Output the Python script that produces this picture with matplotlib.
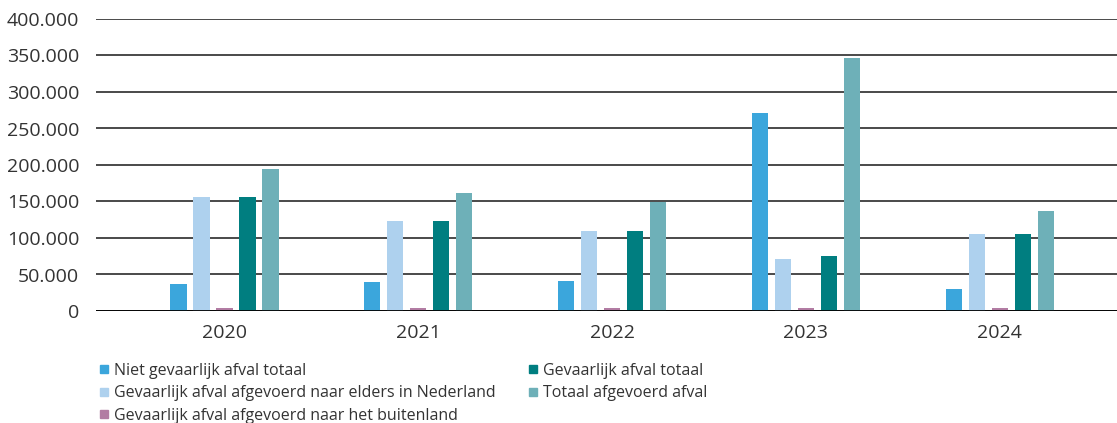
import matplotlib.pyplot as plt
import numpy as np
from matplotlib.lines import Line2D
from matplotlib.ticker import FuncFormatter

plt.rcParams['font.family'] = ['Open Sans', 'DejaVu Sans']

jaren = ['2020', '2021', '2022', '2023', '2024']

niet_gevaarlijk = [37000, 40000, 41000, 271000, 30000]
gevaarlijk_nl = [156000, 123000, 109000, 71000, 105000]
gevaarlijk_buitenland = [4000, 4000, 4000, 4000, 4000]
gevaarlijk_totaal = [156000, 123000, 109000, 75000, 105000]
totaal_afgevoerd = [194500, 161500, 149000, 346500, 137000]

reeksen = [
    ('Niet gevaarlijk afval totaal', niet_gevaarlijk, '#3ba6dc'),
    ('Gevaarlijk afval afgevoerd naar elders in Nederland', gevaarlijk_nl, '#aed1ee'),
    ('Gevaarlijk afval afgevoerd naar het buitenland', gevaarlijk_buitenland, '#b27ca3'),
    ('Gevaarlijk afval totaal', gevaarlijk_totaal, '#007e80'),
    ('Totaal afgevoerd afval', totaal_afgevoerd, '#6eb0b8'),
]

fig = plt.figure(figsize=(11.17, 4.23), dpi=100)
ax = fig.add_axes([96/1117, 1-311/423, 1-96/1117, 292/423])

x = np.arange(len(jaren))
stap = 0.1187
breedte = 0.083

for i, (naam, waarden, kleur) in enumerate(reeksen):
    ax.bar(x + (i-2)*stap, waarden, breedte, color=kleur, zorder=3)

ax.set_ylim(0, 400000)
ax.set_xlim(-0.663, 4.606)
ax.set_yticks(np.arange(0, 400001, 50000))
ax.yaxis.set_major_formatter(FuncFormatter(lambda v, p: '{:,.0f}'.format(v).replace(',', '.')))
ax.set_xticks(x)
ax.set_xticklabels(jaren)

ax.grid(axis='y', color='#3c3c3c', lw=1.3, zorder=0)
ax.axhline(0, color='black', lw=2, zorder=4)
for s in ax.spines.values():
    s.set_visible(False)
ax.tick_params(axis='both', length=0, labelsize=14, colors='#333333')
ax.tick_params(axis='y', pad=12)
ax.tick_params(axis='x', pad=9)

handles = [Line2D([], [], marker='s', ls='none', markersize=6, color=k) for _, _, k in reeksen]
labels = [n for n, _, _ in reeksen]
fig.legend(handles, labels, ncol=2, loc='upper left', bbox_to_anchor=(91/1117, 1-355/423),
           frameon=False, fontsize=11.5, handlelength=0.6, handletextpad=0.35,
           columnspacing=2.0, labelspacing=0.4, borderpad=0, labelcolor='#333333')

fig.savefig('out.png', dpi=100)
